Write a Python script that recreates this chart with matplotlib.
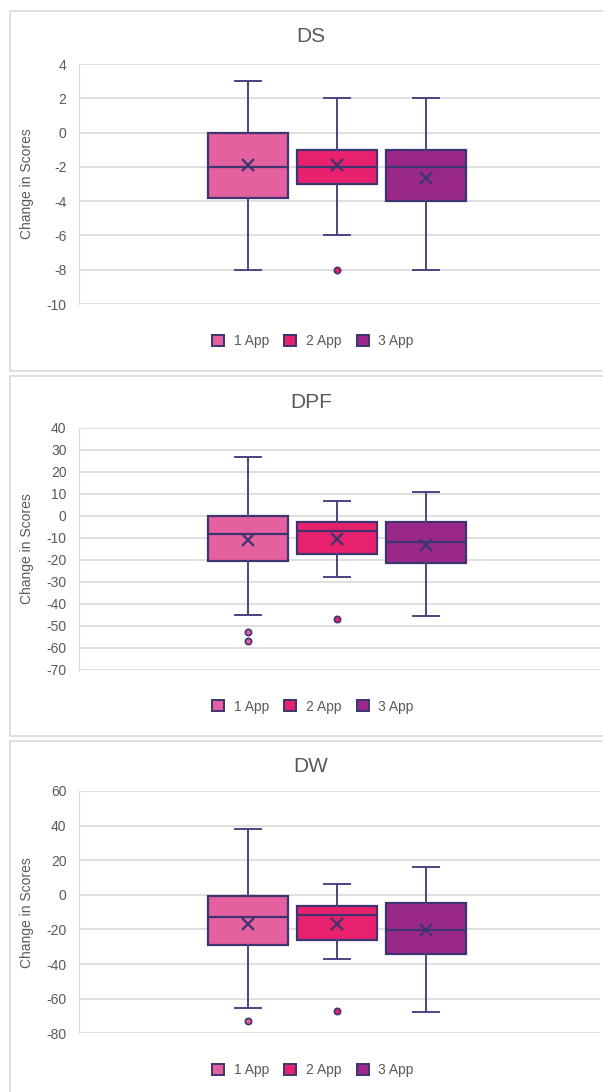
import matplotlib.pyplot as plt
from matplotlib.patches import Patch, Rectangle

plt.rcParams['font.family'] = ['Liberation Sans Narrow', 'Liberation Sans', 'DejaVu Sans']
plt.rcParams['axes.unicode_minus'] = False

groups = ["1 App", "2 App", "3 App"]
colors = ["#E4609E", "#E8216F", "#9A278A"]
navy = "#3D3470"
grey_txt = "#595959"
grid_col = "#D9D9D9"

# five-number summaries + means + outliers for each measure
ds_lo = [-8, -6, -8]
ds_q1 = [-3.8, -3, -4]
ds_med = [-2, -2, -2]
ds_q3 = [0, -1, -1]
ds_hi = [3, 2, 2]
ds_mean = [-1.9, -1.9, -2.65]
ds_out = [[], [-8], []]

dpf_lo = [-45, -28, -45.6]
dpf_q1 = [-20.6, -17.4, -21.7]
dpf_med = [-8.2, -6.8, -12]
dpf_q3 = [0, -2.9, -2.9]
dpf_hi = [26.7, 6.8, 10.8]
dpf_mean = [-10.9, -10.8, -13.2]
dpf_out = [[-53, -57], [-46.8], []]

dw_lo = [-65.2, -36.9, -67.9]
dw_q1 = [-29, -26.3, -34.2]
dw_med = [-13, -11.5, -20.3]
dw_q3 = [-0.7, -6.5, -4.5]
dw_hi = [38.2, 6.4, 15.9]
dw_mean = [-16.7, -16.7, -20.3]
dw_out = [[-73.1], [-67.2], []]

W, H = 603, 1092
fig = plt.figure(figsize=(W / 100, H / 100), dpi=100)


def fx(x):
    return x / W


def fy(y):
    return 1 - y / H


def panel(title, lo, q1, med, q3, hi, mean, out, ylim, step,
          box_top, plot_top, plot_bot):
    # outer chart border
    fig.add_artist(Rectangle((fx(10), fy(box_top + 360)), 1.0, 360 / H,
                             transform=fig.transFigure, fill=False,
                             ec=grid_col, lw=1.2))
    ax = fig.add_axes([fx(79), fy(plot_bot), fx(600 - 79),
                       (plot_bot - plot_top) / H])
    stats = []
    for i in range(3):
        stats.append(dict(whislo=lo[i], q1=q1[i], med=med[i], q3=q3[i],
                          whishi=hi[i], mean=mean[i], fliers=out[i]))
    parts = ax.bxp(stats, positions=[1, 2, 3], widths=0.9, capwidths=0.3,
                   patch_artist=True, showmeans=True, manage_ticks=False,
                   boxprops=dict(edgecolor=navy, linewidth=1.6),
                   whiskerprops=dict(color="#4A4582", linewidth=1.4),
                   capprops=dict(color="#4A4582", linewidth=1.4),
                   medianprops=dict(color=navy, linewidth=1.6),
                   meanprops=dict(marker="x", markeredgecolor=navy,
                                  markersize=8, markeredgewidth=1.6),
                   flierprops=dict(marker="o", markersize=4.5,
                                   markeredgecolor=navy, markeredgewidth=1.2))
    for b, f, c in zip(parts["boxes"], parts["fliers"], colors):
        b.set_facecolor(c)
        f.set_markerfacecolor(c)
    ax.set_xlim(-0.9, 4.955)
    ax.set_ylim(*ylim)
    ax.set_yticks(range(ylim[0], ylim[1] + 1, step))
    ax.set_xticks([])
    ax.grid(axis="y", color=grid_col, lw=1.2)
    ax.set_axisbelow(True)
    for s in ["top", "right", "bottom"]:
        ax.spines[s].set_visible(False)
    ax.spines["left"].set_color(grid_col)
    ax.tick_params(axis="y", length=0, pad=9, labelsize=10,
                   labelcolor=grey_txt)
    fig.text(fx(311), fy(box_top + 26), title, ha="center", va="center",
             fontsize=15, color=grey_txt)
    fig.text(fx(27), fy((plot_top + plot_bot) / 2), "Change in Scores",
             rotation=90, ha="center", va="center", fontsize=10,
             color=grey_txt)
    handles = [Patch(facecolor=c, edgecolor=navy, lw=1.4) for c in colors]
    fig.legend(handles, groups, loc="center", ncol=3, frameon=False,
               bbox_to_anchor=(fx(313), fy(plot_bot + 37)), fontsize=10,
               handlelength=0.85, handleheight=0.85, handletextpad=0.7,
               columnspacing=1.1, labelcolor=grey_txt)


panel("DS", ds_lo, ds_q1, ds_med, ds_q3, ds_hi, ds_mean, ds_out,
      (-10, 4), 2, 11, 64, 304)
panel("DPF", dpf_lo, dpf_q1, dpf_med, dpf_q3, dpf_hi, dpf_mean, dpf_out,
      (-70, 40), 10, 376, 427.7, 669.7)
panel("DW", dw_lo, dw_q1, dw_med, dw_q3, dw_hi, dw_mean, dw_out,
      (-80, 60), 20, 741, 791, 1033.3)

fig.savefig("out.png", dpi=100)
